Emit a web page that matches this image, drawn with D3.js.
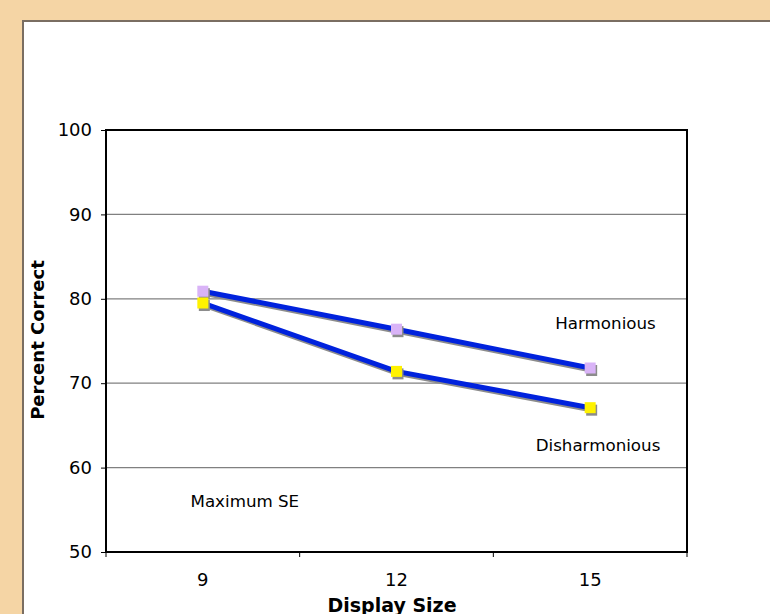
<!DOCTYPE html>
<html><head><meta charset="utf-8">
<script src="https://cdn.jsdelivr.net/npm/d3@7"></script>
<style>body{margin:0;background:#F5D5A5;}svg{display:block}</style>
</head><body>
<script>
const categories = ["9", "12", "15"];
const harmonious = [80.9, 76.4, 71.8];
const disharmonious = [79.5, 71.4, 67.1];
const yTicks = [50, 60, 70, 80, 90, 100];

const W = 770, H = 614;
const svg = d3.select("body").append("svg").attr("width", W).attr("height", H);
svg.append("rect").attr("width", W).attr("height", H).attr("fill", "#F5D5A5");
svg.append("rect").attr("x", 23).attr("y", 21).attr("width", W).attr("height", H)
  .attr("fill", "#fff").attr("stroke", "#7a6e62").attr("stroke-width", 2);

const L = 106, T = 130, R = 687, B = 552;
const x = d3.scaleBand().domain(categories).range([L, R]);
const y = d3.scaleLinear().domain([50, 100]).range([B, T]);
const font = "Verdana, 'DejaVu Sans', sans-serif";

// gridlines
svg.append("g").selectAll("line").data(yTicks.filter(v => v > 50 && v < 100)).join("line")
  .attr("x1", L).attr("x2", R).attr("y1", d => y(d)).attr("y2", d => y(d))
  .attr("stroke", "#808080").attr("stroke-width", 1.3);

// axes
const ya = svg.append("g").attr("transform", `translate(${L},0)`)
  .call(d3.axisLeft(y).tickValues(yTicks).tickSize(5).tickPadding(9));
ya.select(".domain").remove();
ya.selectAll("line").attr("stroke", "#000");
ya.selectAll("text").attr("font-family", font).attr("font-size", 18).attr("fill", "#000");

const xa = svg.append("g").attr("transform", `translate(0,${B})`)
  .call(d3.axisBottom(x).tickSize(0).tickPadding(21));
xa.select(".domain").remove();
xa.selectAll("text").attr("font-family", font).attr("font-size", 18).attr("fill", "#000");
// boundary ticks
const bounds = categories.map(c => x(c)).concat([R]);
svg.append("g").selectAll("line").data(bounds).join("line")
  .attr("x1", d => d).attr("x2", d => d).attr("y1", B).attr("y2", B + 5)
  .attr("stroke", "#000").attr("stroke-width", 1);

// plot frame
svg.append("rect").attr("x", L).attr("y", T).attr("width", R - L).attr("height", B - T)
  .attr("fill", "none").attr("stroke", "#000").attr("stroke-width", 2);

const cx = c => x(c) + x.bandwidth() / 2;
const line = d3.line().x(d => cx(d.c)).y(d => y(d.v));
const seriesList = [
  {vals: harmonious, color: "#D9B3F7"},
  {vals: disharmonious, color: "#FFF200"}
];
seriesList.forEach(s => {
  const pts = categories.map((c, i) => ({c, v: s.vals[i]}));
  svg.append("path").datum(pts).attr("d", line).attr("transform", "translate(1,2)")
    .attr("fill", "none").attr("stroke", "#8c8c8c").attr("stroke-width", 5);
  svg.append("path").datum(pts).attr("d", line)
    .attr("fill", "none").attr("stroke", "#0022DD").attr("stroke-width", 5);
  svg.append("g").selectAll("rect").data(pts).join("rect")
    .attr("x", d => cx(d.c) - 5 + 1).attr("y", d => y(d.v) - 5 + 2)
    .attr("width", 11).attr("height", 11).attr("fill", "#8c8c8c");
  svg.append("g").selectAll("rect").data(pts).join("rect")
    .attr("x", d => cx(d.c) - 5.5).attr("y", d => y(d.v) - 5.5)
    .attr("width", 11).attr("height", 11).attr("fill", s.color);
});

// annotations
const ann = (t, xx, yy, anchor) => svg.append("text").attr("x", xx).attr("y", yy)
  .attr("text-anchor", anchor).attr("font-family", font).attr("font-size", 16.7).text(t);
ann("Harmonious", 605.5, 329, "middle");
ann("Disharmonious", 598, 451, "middle");
ann("Maximum SE", 190.5, 507, "start");

// axis titles
svg.append("text").attr("transform", `translate(44,340) rotate(-90)`)
  .attr("text-anchor", "middle").attr("font-family", font).attr("font-weight", "bold")
  .attr("font-size", 18).text("Percent Correct");
svg.append("text").attr("x", 392).attr("y", 612).attr("text-anchor", "middle")
  .attr("font-family", font).attr("font-weight", "bold").attr("font-size", 19).text("Display Size");
</script>
</body></html>
